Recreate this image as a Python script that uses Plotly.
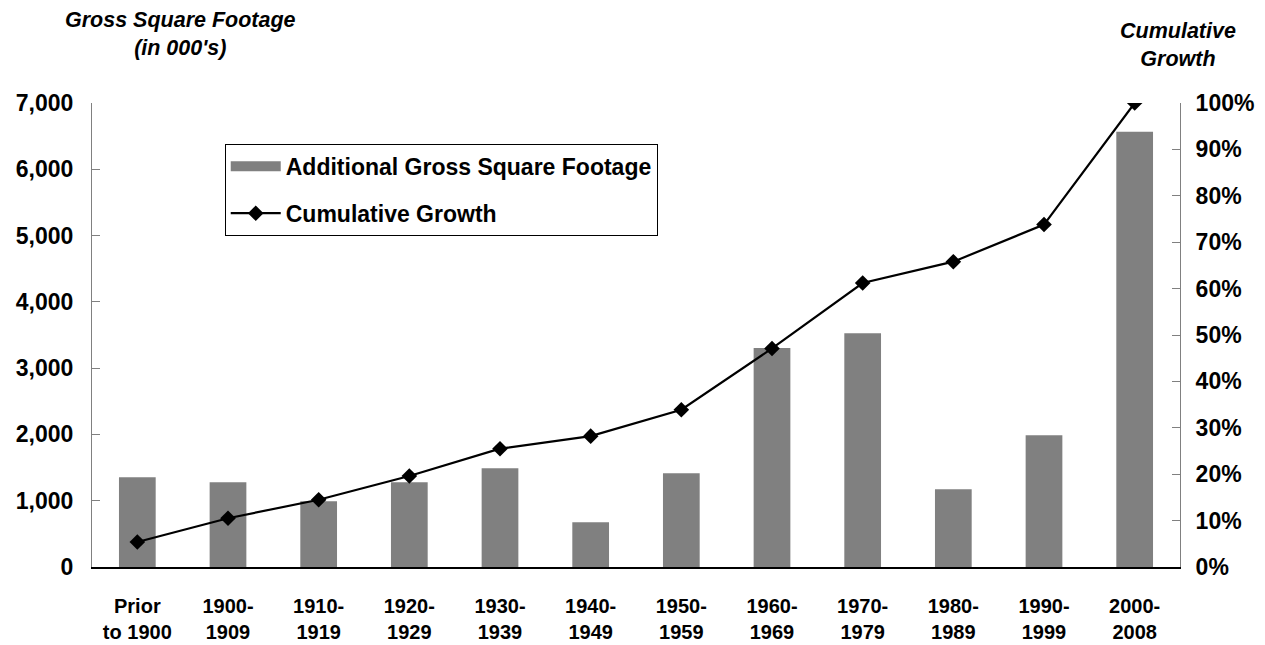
import plotly.graph_objects as go

periods = ["Prior<br>to 1900", "1900-<br>1909", "1910-<br>1919", "1920-<br>1929",
           "1930-<br>1939", "1940-<br>1949", "1950-<br>1959", "1960-<br>1969",
           "1970-<br>1979", "1980-<br>1989", "1990-<br>1999", "2000-<br>2008"]
added_gsf = [1354, 1279, 992, 1279, 1490, 675, 1414, 3302, 3527, 1173, 1989, 6565]
cumulative = [0.054, 0.105, 0.145, 0.196, 0.255, 0.282, 0.339, 0.471, 0.612, 0.658, 0.738, 1.0]

FONT = "Liberation Sans, Arial, sans-serif"
BAR_COLOR = "#808080"
AXIS_GRAY = "#808080"

fig = go.Figure()
fig.add_trace(go.Bar(
    x=periods, y=added_gsf,
    marker=dict(color=BAR_COLOR, line=dict(width=0)),
    width=0.405,
    showlegend=False,
))
# legend-only entry so the key shows a wide grey block like the original
fig.add_trace(go.Scatter(
    x=[None], y=[None], mode="lines",
    name="<b>Additional Gross Square Footage</b>",
    line=dict(color=BAR_COLOR, width=14),
    legendgroup="a",
))
fig.add_trace(go.Scatter(
    x=periods, y=cumulative, yaxis="y2",
    name="<b>Cumulative Growth</b>",
    mode="lines+markers",
    line=dict(color="black", width=2.2),
    marker=dict(symbol="diamond", size=12, color="black"),
    legendgroup="b",
))

fig.update_layout(
    width=1265, height=645,
    paper_bgcolor="white", plot_bgcolor="white",
    margin=dict(l=84, r=93, t=95, b=86),
    font=dict(family=FONT, size=23, color="black"),
    showlegend=True,
    legend=dict(
        x=0.122, y=0.912, xanchor="left", yanchor="top",
        bgcolor="white", bordercolor="black", borderwidth=1,
        font=dict(size=23, family=FONT),
        tracegroupgap=14, itemwidth=50,
    ),
    xaxis=dict(
        range=[-0.5, 11.5], automargin=False,
        showline=True, linecolor="black", linewidth=1.5,
        ticks="", tickfont=dict(size=20, family=FONT),
        ticklabelstandoff=20,
        tickprefix="<b>", ticksuffix="</b>",
    ),
    yaxis=dict(
        range=[0, 7000], dtick=1000, tickformat=",d", automargin=False,
        showline=True, linecolor=AXIS_GRAY, linewidth=1,
        ticks="inside", ticklen=8, tickcolor=AXIS_GRAY,
        showgrid=False, zeroline=False,
        tickprefix="<b>", ticksuffix="</b>",
        ticklabelstandoff=13,
    ),
    yaxis2=dict(
        range=[0, 1], dtick=0.1, tickformat=".0%", automargin=False,
        overlaying="y", side="right",
        showline=True, linecolor=AXIS_GRAY, linewidth=1,
        ticks="inside", ticklen=8, tickcolor=AXIS_GRAY,
        showgrid=False, zeroline=False,
        tickprefix="<b>", ticksuffix="</b>",
        ticklabelstandoff=10,
    ),
)

fig.add_annotation(
    text="<b><i>Gross Square Footage<br>(in 000's)</i></b>",
    xref="paper", yref="paper", x=0, xshift=88, y=1.0, yshift=97,
    xanchor="center", yanchor="top", showarrow=False,
    font=dict(size=21.5, family=FONT), align="center",
)
fig.add_annotation(
    text="<b><i>Cumulative<br>Growth</i></b>",
    xref="paper", yref="paper", x=1.0, xshift=-2, y=1.0, yshift=86,
    xanchor="center", yanchor="top", showarrow=False,
    font=dict(size=21.5, family=FONT), align="center",
)

fig.write_html("out.html")
